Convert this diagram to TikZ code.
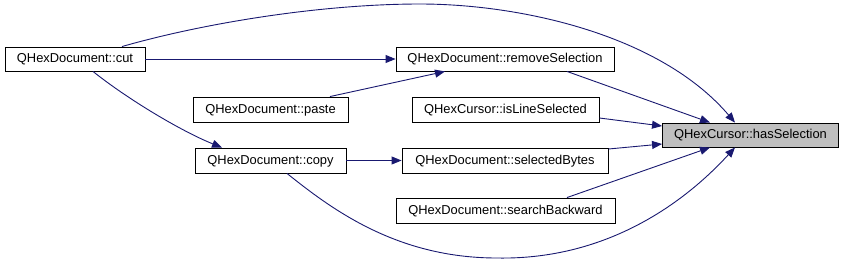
\documentclass[tikz,border=0pt]{standalone}
\usepackage{fontspec}
\setmainfont{Liberation Sans}
\usetikzlibrary{arrows.meta}
\definecolor{edgeblue}{RGB}{25,25,112}
\definecolor{hlgray}{RGB}{191,191,191}
\begin{document}
\begin{tikzpicture}[x=1pt,y=-1pt,
  fn/.style={draw=black,fill=white,rectangle,inner sep=0pt,line width=0.9pt,
    font=\fontsize{12.9}{15}\selectfont,text height=9.5pt,text depth=2.5pt},
  call/.style={draw=edgeblue,line width=0.9pt,
    -{Triangle[length=10pt,width=8pt,fill=edgeblue]}}]
\useasboundingbox (0,0) rectangle (844,263);
\node[fn,minimum width=140pt,minimum height=24pt] (cut) at (75,59) {QHexDocument::cut};
\node[fn,minimum width=218pt,minimum height=24pt] (rem) at (505,59) {QHexDocument::removeSelection};
\node[fn,minimum width=155pt,minimum height=25pt] (paste) at (270.5,109.5) {QHexDocument::paste};
\node[fn,minimum width=187pt,minimum height=25pt] (isl) at (505.5,109.5) {QHexCursor::isLineSelected};
\node[fn,minimum width=151pt,minimum height=25pt] (copy) at (270.5,160.5) {QHexDocument::copy};
\node[fn,minimum width=206pt,minimum height=25pt] (sel) at (505,160.5) {QHexDocument::selectedBytes};
\node[fn,minimum width=219pt,minimum height=25pt] (sb) at (505.5,210.5) {QHexDocument::searchBackward};
\node[fn,fill=hlgray,minimum width=176pt,minimum height=24pt] (has) at (750.5,135) {QHexCursor::hasSelection};

% cut -> removeSelection
\draw[call] (cut.east) -- (rem.west);
% cut -> copy
\draw[call] ([xshift=18pt]cut.south) .. controls +(35,28) and +(-40,-16) .. ([xshift=-48.5pt]copy.north);
% cut -> hasSelection (top)
\draw[call] ([xshift=47pt]cut.north) .. controls +(80,-23) and +(-100,0) .. (420,4)
  .. controls +(100,0) and +(-75,-88) .. ([xshift=-15.5pt]has.north);
% paste -> removeSelection
\draw[call] ([xshift=59.5pt]paste.north) -- ([xshift=-60pt]rem.south);
% removeSelection -> hasSelection
\draw[call] ([xshift=62pt]rem.south) -- ([xshift=-40.5pt]has.north);
% isLineSelected -> hasSelection
\draw[call] ([yshift=-8.5pt]isl.east) -- ([yshift=9pt]has.west);
% selectedBytes -> hasSelection
\draw[call] ([yshift=11.5pt]sel.east) -- ([yshift=-9pt]has.west);
% searchBackward -> hasSelection
\draw[call] ([xshift=61.5pt]sb.north) -- ([xshift=-40.5pt]has.south);
% copy -> selectedBytes
\draw[call] (copy.east) -- (sel.west);
% copy -> hasSelection (bottom)
\draw[call] ([xshift=16.5pt]copy.south) .. controls +(45,36) and +(-100,0) .. (497,258)
  .. controls +(105,2) and +(-55,60) .. ([xshift=-15.5pt]has.south);
\end{tikzpicture}
\end{document}
